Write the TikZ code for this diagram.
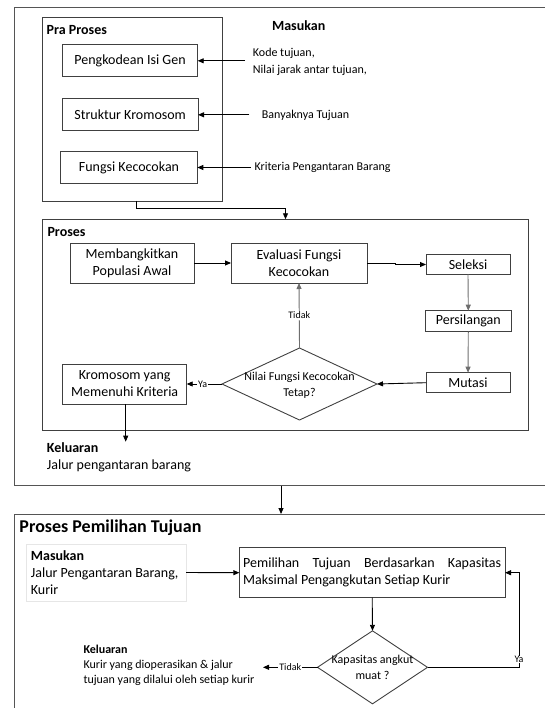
\documentclass[tikz,border=0pt]{standalone}
\usepackage{fontspec}
\setmainfont{Carlito}
\usetikzlibrary{arrows.meta,shapes.geometric,calc}
\definecolor{boxline}{HTML}{404040}
\definecolor{greyline}{HTML}{6E6E6E}
\definecolor{outerline}{HTML}{555555}
\definecolor{faint}{HTML}{E6E6E6}
\tikzset{
  box/.style={draw=boxline, line width=0.9pt, rectangle, inner sep=0pt, outer sep=0pt, align=center, font=\fontsize{14}{17}\selectfont},
  grp/.style={draw=boxline, line width=0.9pt, rectangle, inner sep=0pt, outer sep=0pt},
  outer/.style={draw=outerline, line width=0.9pt, rectangle, inner sep=0pt, outer sep=0pt},
  dia/.style={draw=boxline, line width=0.9pt, diamond, inner sep=0pt, outer sep=0pt},
  arr/.style={draw=black, line width=0.9pt, -{Triangle[length=6pt,width=5pt]}},
  garr/.style={arr, draw=greyline},
  lbl/.style={font=\fontsize{10}{12}\selectfont, fill=white, inner sep=1pt},
  small/.style={font=\fontsize{12}{16.7}\selectfont, inner sep=0pt, align=left},
  title/.style={font=\fontsize{14}{17}\selectfont\bfseries, inner sep=0pt},
  body/.style={font=\fontsize{14}{17}\selectfont, inner sep=0pt, align=left},
}
\begin{document}
\begin{tikzpicture}[x=1pt,y=-1pt]
\useasboundingbox (0,0) rectangle (545,708);
\clip (0,0) rectangle (545,708);

% outer frames
\node[outer, minimum width=545.3, minimum height=478.4] (outer1) at (287.35,246.5) {};
\node[outer, minimum width=545.3, minimum height=216] (outer2) at (287.35,622) {};

% ---- Pra Proses ----
\node[grp, minimum width=179.6, minimum height=183.7] (pra) at (132.5,109.15) {};
\node[title, anchor=west] (pratitle) at (46.5,30) {Pra Proses};
\node[box, minimum width=135.4, minimum height=31.7] (pengkodean) at (130,60.8) {Pengkodean Isi Gen};
\node[box, minimum width=135.7, minimum height=31.7] (struktur) at (130.2,114.8) {Struktur Kromosom};
\node[box, minimum width=136.6, minimum height=31.6] (fungsi) at (129,167.5) {Fungsi Kecocokan};

\node[title] (masukan) at (298.7,25.7) {Masukan};
\node[small, anchor=west] (kode) at (252.7,61.8) {Kode tujuan,\\Nilai jarak antar tujuan,};
\node[small, anchor=west] (banyak) at (261.7,115.7) {Banyaknya Tujuan};
\node[small, anchor=west] (kriteria) at (254.3,167.5) {Kriteria Pengantaran Barang};
\coordinate (c1) at (245,60.8);
\coordinate (c2) at (249.3,114.8);
\coordinate (c3) at (251,167.5);
\draw[arr] (c1) -- (pengkodean.east);
\draw[arr] (c2) -- (struktur.east);
\draw[arr] (c3) -- (fungsi.east);

% ---- Proses ----
\node[grp, minimum width=485.6, minimum height=210.7] (proses) at (285.5,324.65) {};
\draw[arr] ([xshift=3.5pt]pra.south) -- ++(0,7) -| (proses.north);
\node[title, anchor=west] (prosestitle) at (47.3,232.3) {Proses};

\node[box, minimum width=124, minimum height=40] (bangkit) at (132,263) {Membangkitkan\\Populasi Awal};
\node[box, minimum width=136, minimum height=40] (evaluasi) at (299,263) {Evaluasi Fungsi\\Kecocokan};
\node[box, minimum width=84, minimum height=19.5] (seleksi) at (468,264.5) {Seleksi};
\node[box, minimum width=85.3, minimum height=21] (silang) at (468.3,321.2) {Persilangan};
\node[box, minimum width=84, minimum height=20] (mutasi) at (468,382.7) {Mutasi};
\node[box, minimum width=124, minimum height=40] (kromosom) at (124.7,384) {Kromosom yang\\Memenuhi Kriteria};
\node[dia, minimum width=155, minimum height=72] (d1) at (299.5,384) {};
\node[font=\fontsize{12}{16}\selectfont, align=center, inner sep=0pt] (d1text) at (299.5,385) {Nilai Fungsi Kecocokan\\Tetap?};

\draw[arr] (bangkit.east) -- (evaluasi.west);
\draw[arr] (evaluasi.east) -- ++(28,0) |- (seleksi.west);
\draw[garr] (seleksi.south) -- (silang.north);
\draw[garr] (silang.south) -- (mutasi.north);
\draw[arr] (mutasi.west) -- (d1.east);
\draw[garr] (d1.north) -- node[lbl] {Tidak} (evaluasi.south);
\draw[arr] (d1.west) -- node[lbl, pos=0.55] {Ya} (kromosom.east);
\coordinate (k1) at (125.7,441.7);
\draw[arr] (kromosom.south -| k1) -- (k1);

\node[body, anchor=west] (keluaran1) at (46.7,457.5) {\textbf{Keluaran}\\Jalur pengantaran barang};

% ---- Proses Pemilihan Tujuan ----
\draw[arr] ($(outer1.south west)+(266.3,0)$) -- ($(outer2.north west)+(266.3,0)$);
\node[font=\fontsize{18}{21}\selectfont\bfseries, inner sep=0pt, anchor=west] (pptitle) at (19.3,528) {Proses Pemilihan Tujuan};

\node[draw=faint, line width=0.9pt, minimum width=159.3, minimum height=57, inner sep=0pt, outer sep=0pt] (masukan2) at (106.35,572.5) {};
\node[body, anchor=west] (masukan2text) at (30.7,573) {\textbf{Masukan}\\Jalur Pengantaran Barang,\\Kurir};

\node[box, minimum width=265.7, minimum height=50, text width=258, align=justify] (pemilihan) at (372.2,572.7) {Pemilihan Tujuan Berdasarkan Kapasitas \linebreak Maksimal Pengangkutan Setiap Kurir};
\draw[arr] (masukan2.east) -- (pemilihan.west);

\node[dia, minimum width=110, minimum height=73] (d2) at (372.5,667.3) {};
\node[font=\fontsize{12}{15.7}\selectfont, align=center, inner sep=0pt] (d2text) at (372.5,667.5) {Kapasitas angkut\\muat ?};
\draw[arr] (pemilihan.south) -- (d2.north);

\draw[arr] (d2.east) -- ++(91.5,0) coordinate (yacorner) |- (pemilihan.east);
\node[lbl, inner sep=0.5pt] (yalabel) at ([yshift=8pt]yacorner) {Ya};

\coordinate (k2) at (263,667.3);
\draw[arr] (d2.west) -- node[lbl] {Tidak} (k2);
\node[font=\fontsize{12}{15}\selectfont, inner sep=0pt, align=left, anchor=north west] (keluaran2) at (83.3,645) {\textbf{Keluaran}\\Kurir yang dioperasikan \& jalur\\tujuan yang dilalui oleh setiap kurir};
\end{tikzpicture}
\end{document}
